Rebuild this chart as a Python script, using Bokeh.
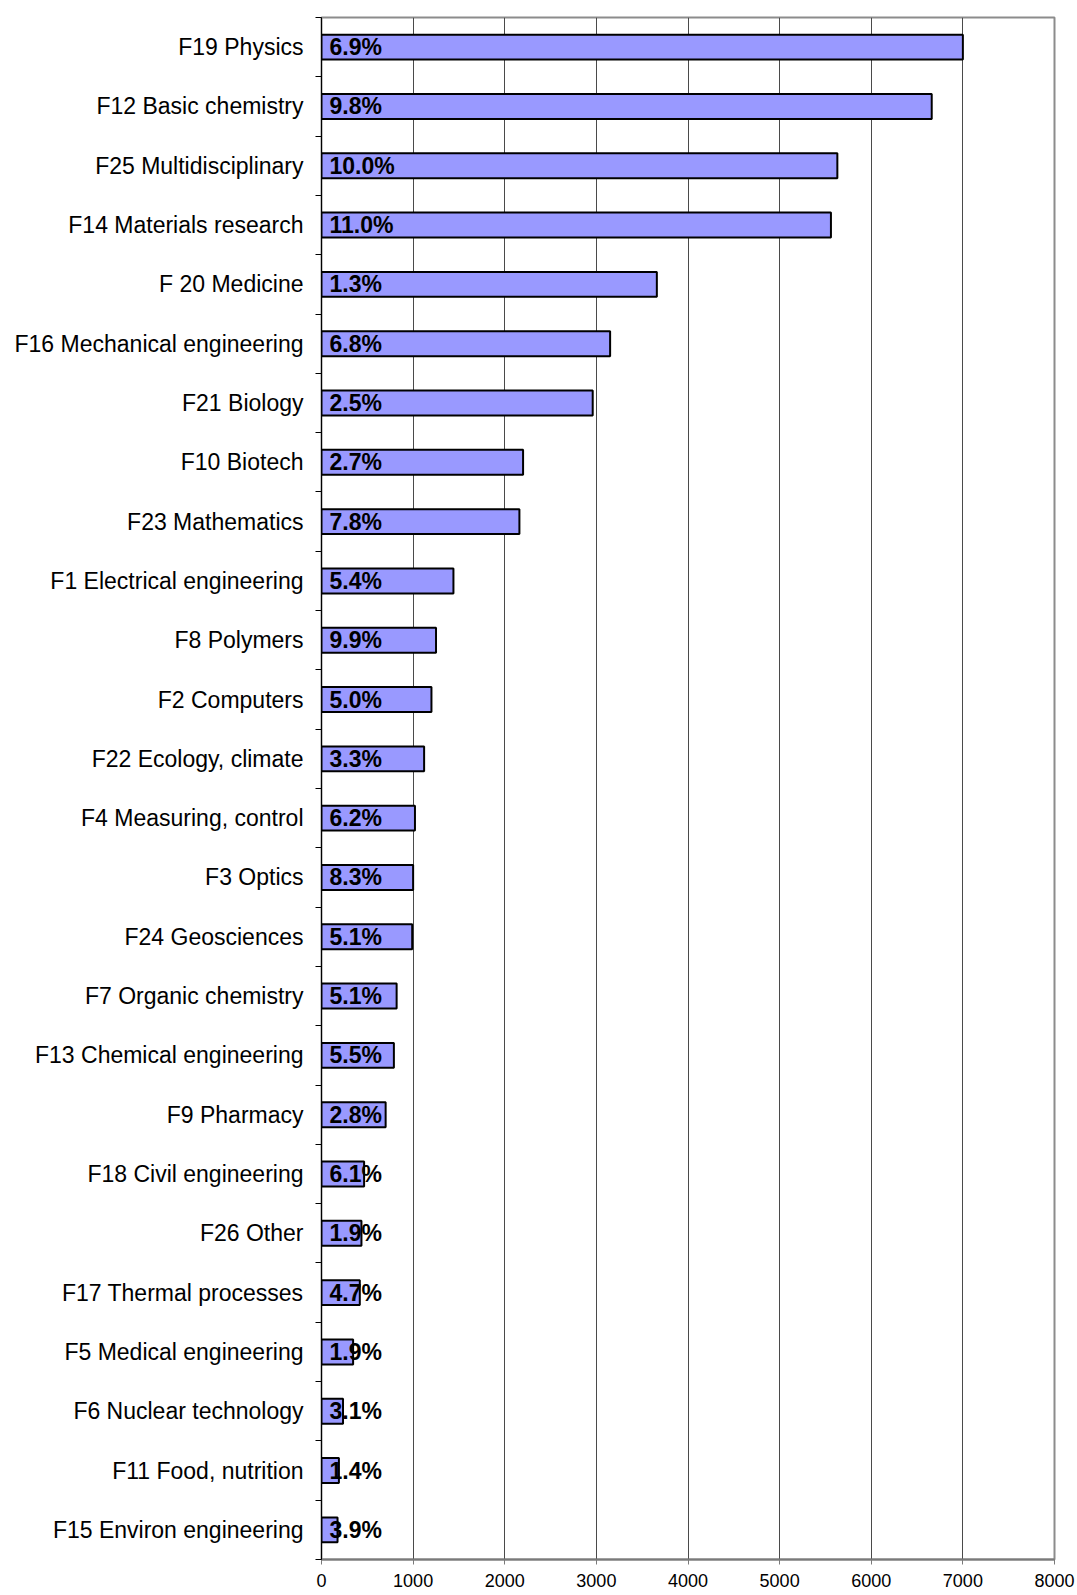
from bokeh.plotting import figure
from bokeh.models import Range1d, FixedTicker, ColumnDataSource
from bokeh.core.properties import value
from bokeh.embed import file_html
from bokeh.resources import INLINE

categories = [
    "F19 Physics", "F12 Basic chemistry", "F25 Multidisciplinary", "F14 Materials research",
    "F 20 Medicine", "F16 Mechanical engineering", "F21 Biology", "F10 Biotech",
    "F23 Mathematics", "F1 Electrical engineering", "F8 Polymers", "F2 Computers",
    "F22 Ecology, climate", "F4 Measuring, control", "F3 Optics", "F24 Geosciences",
    "F7 Organic chemistry", "F13 Chemical engineering", "F9 Pharmacy", "F18 Civil engineering",
    "F26 Other", "F17 Thermal processes", "F5 Medical engineering", "F6 Nuclear technology",
    "F11 Food, nutrition", "F15 Environ engineering",
]
counts = [7000, 6660, 5630, 5560, 3660, 3150, 2960, 2200, 2160, 1440, 1250, 1200, 1120,
          1020, 1000, 990, 820, 790, 700, 465, 436, 418, 345, 235, 190, 175]
shares = ["6.9%", "9.8%", "10.0%", "11.0%", "1.3%", "6.8%", "2.5%", "2.7%", "7.8%", "5.4%",
          "9.9%", "5.0%", "3.3%", "6.2%", "8.3%", "5.1%", "5.1%", "5.5%", "2.8%", "6.1%",
          "1.9%", "4.7%", "1.9%", "3.1%", "1.4%", "3.9%"]
x_ticks = [0, 1000, 2000, 3000, 4000, 5000, 6000, 7000, 8000]

n = len(categories)
ypos = [i + 0.5 for i in range(n)]
src = ColumnDataSource(dict(y=ypos, count=counts, share=shares, zero=[0] * n))

p = figure(width=1077, height=1595, output_backend="svg", toolbar_location=None,
           x_range=Range1d(0, 8000), y_range=Range1d(n, 0),
           min_border_left=321, min_border_right=23, min_border_top=17, min_border_bottom=36)
p.background_fill_color = "white"
p.border_fill_color = "white"
p.outline_line_color = "#8c8c8c"
p.outline_line_width = 2

p.hbar(y="y", right="count", left=0, height=0.42, source=src,
       fill_color="#9999ff", line_color="black", line_width=2)
p.text(x="zero", y="y", text="share", source=src, x_offset=8,
       text_font=value("Liberation Sans"), text_font_style="bold", text_font_size="23px",
       text_baseline="middle", text_align="left", text_color="black")

# x axis
p.xaxis.ticker = FixedTicker(ticks=x_ticks)
p.xaxis.axis_line_color = "#7a7a7a"
p.xaxis.axis_line_width = 2
p.xaxis.major_tick_in = 0
p.xaxis.major_tick_out = 5
p.xaxis.major_tick_line_color = "#7a7a7a"
p.xaxis.minor_tick_line_color = None
p.xaxis.major_label_text_font = "Liberation Sans"
p.xaxis.major_label_text_font_size = "18px"
p.xaxis.major_label_text_color = "black"
p.xaxis.major_label_standoff = 9

# y axis: labels at centers, tick marks at boundaries
p.yaxis.ticker = FixedTicker(ticks=ypos, minor_ticks=list(range(n + 1)))
p.yaxis.major_label_overrides = {y: c for y, c in zip(ypos, categories)}
p.yaxis.axis_line_color = "black"
p.yaxis.axis_line_width = 1
p.yaxis.major_tick_in = 0
p.yaxis.major_tick_out = 0
p.yaxis.minor_tick_in = 0
p.yaxis.minor_tick_out = 6
p.yaxis.minor_tick_line_color = "black"
p.yaxis.major_label_text_font = "Liberation Sans"
p.yaxis.major_label_text_font_size = "23px"
p.yaxis.major_label_text_color = "black"
p.yaxis.major_label_standoff = 12

p.xgrid.ticker = FixedTicker(ticks=x_ticks)
p.xgrid.grid_line_color = "#4a4a4a"
p.xgrid.grid_line_width = 1
p.ygrid.grid_line_color = None

open("out.html", "w").write(file_html(p, INLINE))
